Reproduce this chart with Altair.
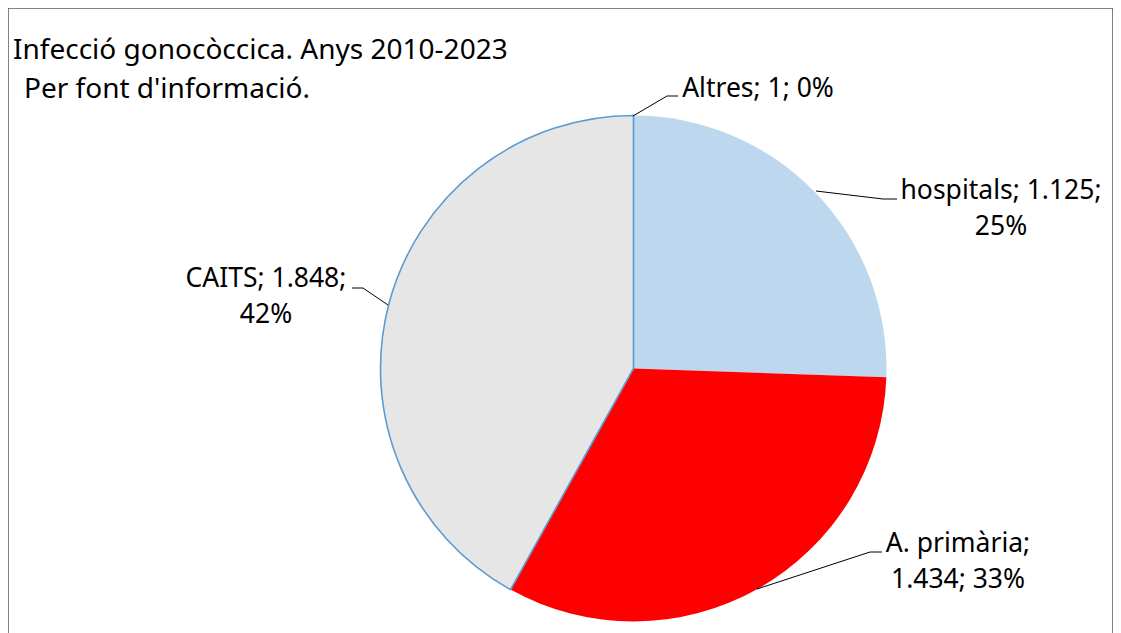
import altair as alt
import pandas as pd

# ---- data ----
categories = ["Altres", "hospitals", "A. primària", "CAITS"]
values = [1, 1125, 1434, 1848]
value_text = ["1", "1.125", "1.434", "1.848"]
percents = ["0%", "25%", "33%", "42%"]
title_lines = ["Infecció gonocòccica. Anys 2010-2023", "Per font d'informació."]

# ---- styles ----
fill_colors = ["#BDD7EE", "#BDD7EE", "#FF0000", "#E6E6E6"]
outlined = ["Altres", "CAITS"]
FONT = "Noto Sans"
FS = 26.5
FS_TITLE = 28

# ---- layout (view pixel coordinates) ----
CX, CY, R = 625.5, 360.5, 253
# label: (x, first baseline y, line break after part index)
label_layout = {
    "Altres": (750, 89, None),
    "hospitals": (993, 191, 1),
    "A. primària": (950, 544, 0),
    "CAITS": (258, 279, 1),
}
leader_layout = {
    "Altres": [(625, 108), (659, 88), (670, 88)],
    "hospitals": [(808, 183), (875, 191), (889, 191)],
    "A. primària": [(749, 581), (862, 544), (874, 544)],
    "CAITS": [(380, 297), (355, 280), (344, 280)],
}

pie_df = pd.DataFrame({
    "font": categories,
    "valor": values,
    "ordre": list(range(len(categories))),
})

lab_rows = []
for c, v, p in zip(categories, value_text, percents):
    x, y, brk = label_layout[c]
    parts = [c + ";", v + ";", p]
    if brk is None:
        txt = " ".join(parts)
    else:
        txt = " ".join(parts[: brk + 1]) + "\n" + " ".join(parts[brk + 1:])
    lab_rows.append({"font": c, "txt": txt, "x": x, "y": y})
lab_df = pd.DataFrame(lab_rows)

line_rows = []
for c in categories:
    for i, (x, y) in enumerate(leader_layout[c]):
        line_rows.append({"font": c, "i": i, "x": x, "y": y})
line_df = pd.DataFrame(line_rows)

title_df = pd.DataFrame({
    "txt": title_lines,
    "x": [5, 16],
    "y": [51, 90],
})

pie = alt.Chart(pie_df).mark_arc(radius=R, strokeWidth=1.6).encode(
    theta=alt.Theta("valor:Q", stack=True),
    order=alt.Order("ordre:Q"),
    color=alt.Color("font:N", scale=alt.Scale(domain=categories, range=fill_colors), legend=None),
    stroke=alt.condition(
        alt.FieldOneOfPredicate(field="font", oneOf=outlined),
        alt.value("#5B9BD5"),
        alt.value("transparent"),
    ),
    x=alt.value(CX),
    y=alt.value(CY),
)

leaders = alt.Chart(line_df).mark_line(color="black", strokeWidth=1).encode(
    x=alt.X("x:Q", scale=None),
    y=alt.Y("y:Q", scale=None),
    detail="font:N",
    order="i:Q",
)

labels = alt.Chart(lab_df).mark_text(
    font=FONT, fontSize=FS, color="black", align="center",
    baseline="alphabetic", lineBreak="\n", lineHeight=36,
).encode(
    x=alt.X("x:Q", scale=None),
    y=alt.Y("y:Q", scale=None),
    text="txt:N",
)

title = alt.Chart(title_df).mark_text(
    font=FONT, fontSize=FS_TITLE, color="black", align="left", baseline="alphabetic",
).encode(
    x=alt.X("x:Q", scale=None),
    y=alt.Y("y:Q", scale=None),
    text="txt:N",
)

chart = alt.layer(pie, leaders, labels, title).properties(
    width=1105, height=627,
    autosize=alt.AutoSizeParams(type="none"),
    padding=0,
).configure_view(stroke="#595959", strokeWidth=1.5)

chart.save("out.html", embed_options={"renderer": "svg", "actions": False})
